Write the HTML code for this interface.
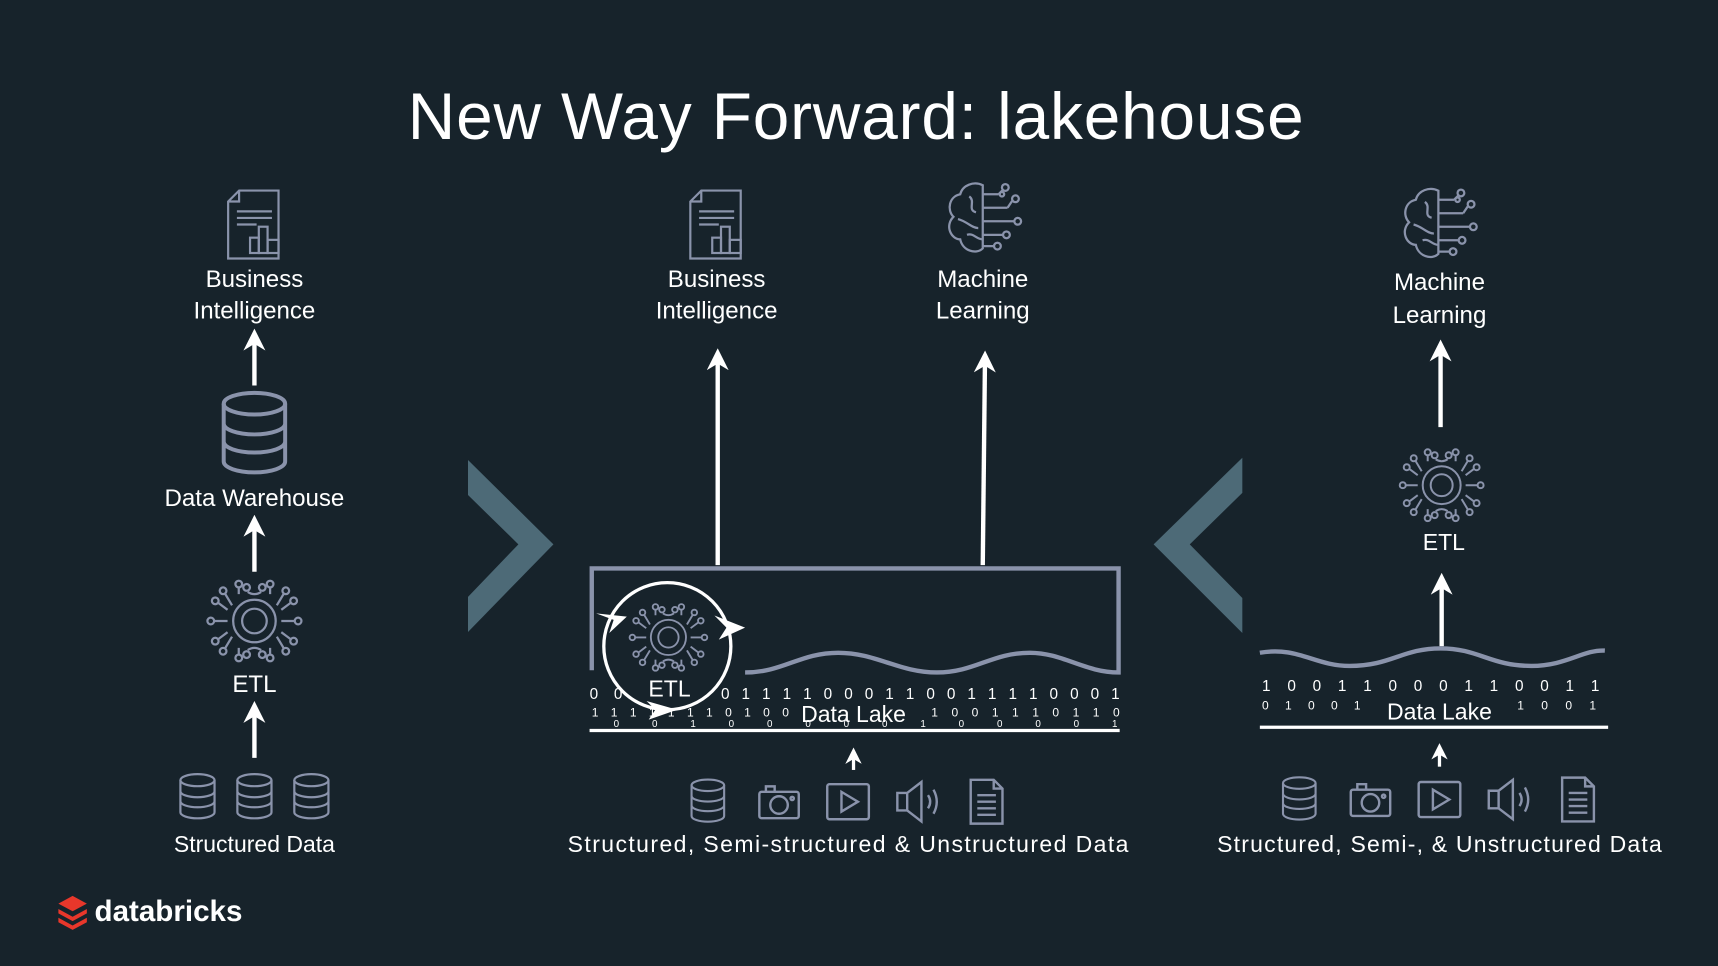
<!DOCTYPE html>
<html><head><meta charset="utf-8"><style>
html,body{margin:0;padding:0;background:#17232b;}
svg{display:block;}
text{font-family:"Liberation Sans",sans-serif;fill:#ffffff;}
</style></head><body>
<svg width="1718" height="966" viewBox="0 0 1568 882" xmlns="http://www.w3.org/2000/svg">
<defs>
<marker id="ah" viewBox="0 0 10 10" refX="5" refY="5" markerWidth="5" markerHeight="5" orient="auto-start-reverse">
<path d="M0,0 L10,5 L0,10 L3,5 Z" fill="#fff"/></marker>
<symbol id="etl" viewBox="-45 -40 90 80" overflow="visible">
<g fill="none" stroke="#8a93ab" stroke-width="2">
<circle r="11"/><circle r="19"/>
<path d="M-14,-24 L-14,-30 M14,-24 L14,-30 M-6,-26 Q0,-22 6,-26 M-24,-10 L-32,-16 M-24,0 L-36,0 M-24,10 L-32,16 M24,-10 L32,-16 M24,0 L36,0 M24,10 L32,16 M-14,24 L-14,30 M14,24 L14,30 M-6,26 Q0,22 6,26 M-20,-14 L-26,-24 M20,-14 L26,-24 M-20,14 L-26,24 M20,14 L26,24"/>
<circle cx="-14" cy="-33" r="3"/><circle cx="14" cy="-33" r="3"/><circle cx="-7" cy="-30" r="3"/><circle cx="7" cy="-30" r="3"/>
<circle cx="-14" cy="33" r="3"/><circle cx="14" cy="33" r="3"/><circle cx="-7" cy="30" r="3"/><circle cx="7" cy="30" r="3"/>
<circle cx="-35" cy="-18" r="3"/><circle cx="-39" cy="0" r="3"/><circle cx="-35" cy="18" r="3"/>
<circle cx="35" cy="-18" r="3"/><circle cx="39" cy="0" r="3"/><circle cx="35" cy="18" r="3"/>
<circle cx="-28" cy="-27" r="3"/><circle cx="28" cy="-27" r="3"/><circle cx="-28" cy="27" r="3"/><circle cx="28" cy="27" r="3"/>
</g></symbol>
<symbol id="db" viewBox="-20 -24 40 48" overflow="visible">
<g fill="none" stroke="#8a93ab" stroke-width="2.2">
<ellipse cx="0" cy="-16" rx="17" ry="6"/>
<path d="M-17,-16 V16 A17,6 0 0 0 17,16 V-16 M-17,-5 A17,6 0 0 0 17,-5 M-17,5 A17,6 0 0 0 17,5"/>
</g></symbol>
<symbol id="bi" viewBox="-26 -33 52 66" overflow="visible">
<g fill="none" stroke="#8a93ab" stroke-width="2">
<path d="M-14,-31 H22 V31 H-24 V-21 Z M-24,-21 H-14 V-31"/>
<path d="M-16,-12 H16 M-16,-6 H16 M-16,0 H2"/>
<rect x="-4" y="12" width="8" height="14"/><rect x="4" y="2" width="8" height="24"/><rect x="12" y="14" width="10" height="12"/>
</g></symbol>
<symbol id="brain" viewBox="-34 -34 68 68" overflow="visible">
<g fill="none" stroke="#8a93ab" stroke-width="2">
<path d="M0,-30 C-8,-34 -18,-30 -20,-22 C-30,-20 -32,-8 -26,-2 C-34,6 -28,18 -20,18 C-18,28 -6,32 0,26 Z"/>
<path d="M-12,-20 C-6,-16 -14,-8 -6,-6 M-22,0 C-14,2 -10,8 -4,8 M-14,14 C-8,12 -6,18 0,18"/>
<path d="M0,-22 H14 M0,-10 H22 M0,2 H28 M0,14 H18 M0,24 H10 M14,-22 L18,-26 M22,-10 L26,-16"/>
<circle cx="20" cy="-28" r="3"/><circle cx="29" cy="-18" r="3"/><circle cx="31" cy="2" r="3"/><circle cx="21" cy="14" r="3"/><circle cx="13" cy="24" r="3"/><circle cx="17" cy="-22" r="2"/>
</g></symbol>
<symbol id="cam" viewBox="-20 -20 40 40" overflow="visible">
<g fill="none" stroke="#8a93ab" stroke-width="2.2"><rect x="-18" y="-9" width="36" height="24" rx="2"/><path d="M-12,-9 V-14 H-4 V-9"/><circle cx="0" cy="3" r="8"/><circle cx="12" cy="-3" r="1.5"/></g></symbol>
<symbol id="play" viewBox="-20 -20 40 40" overflow="visible">
<g fill="none" stroke="#8a93ab" stroke-width="2.2"><rect x="-19" y="-16" width="38" height="32" rx="2"/><path d="M-6,-9 L9,0 L-6,9 Z"/></g></symbol>
<symbol id="spk" viewBox="-20 -20 40 40" overflow="visible">
<g fill="none" stroke="#8a93ab" stroke-width="2.2"><path d="M-18,-8 H-9 L4,-18 V18 L-9,8 H-18 Z M-9,-8 V8"/><path d="M10,-6 Q14,0 10,6 M15,-11 Q21,0 15,11"/></g></symbol>
<symbol id="doc" viewBox="-20 -20 40 40" overflow="visible">
<g fill="none" stroke="#8a93ab" stroke-width="2.2"><path d="M-14,-20 H7 L15,-12 V20 H-14 Z M7,-20 V-12 H15"/><path d="M-8,-6 H9 M-8,0 H9 M-8,6 H9 M-8,12 H9"/></g></symbol>
</defs>

<text x="781" y="127" font-size="60" text-anchor="middle" textLength="818">New Way Forward: lakehouse</text>

<!-- Left column -->
<use href="#bi" x="206" y="172" width="52" height="66"/>
<text x="232" y="262" font-size="22" text-anchor="middle">Business</text>
<text x="232" y="291" font-size="22" text-anchor="middle">Intelligence</text>
<line x1="232" y1="352" x2="232" y2="310" stroke="#fff" stroke-width="4" marker-end="url(#ah)"/>
<use href="#db" x="199" y="355" width="66" height="80"/>
<text x="232" y="462" font-size="22" text-anchor="middle">Data Warehouse</text>
<line x1="232" y1="522" x2="232" y2="480" stroke="#fff" stroke-width="4" marker-end="url(#ah)"/>
<use href="#etl" x="186" y="526" width="92" height="82"/>
<text x="232" y="632" font-size="22" text-anchor="middle">ETL</text>
<line x1="232" y1="692" x2="232" y2="650" stroke="#fff" stroke-width="4" marker-end="url(#ah)"/>
<use href="#db" x="160" y="705" width="40" height="44"/>
<use href="#db" x="212" y="705" width="40" height="44"/>
<use href="#db" x="264" y="705" width="40" height="44"/>
<text x="232" y="778" font-size="21" text-anchor="middle">Structured Data</text>

<!-- chevrons -->
<polygon points="427,420 505,497 427,577 427,545 473,497 427,452" fill="#4d6a77"/>
<polygon points="1134,418 1053,497 1134,578 1134,546 1086,497 1134,450" fill="#4d6a77"/>

<!-- Middle -->
<use href="#bi" x="628" y="172" width="52" height="66"/>
<text x="654" y="262" font-size="22" text-anchor="middle">Business</text>
<text x="654" y="291" font-size="22" text-anchor="middle">Intelligence</text>
<use href="#brain" x="862" y="165" width="70" height="70"/>
<text x="897" y="262" font-size="22" text-anchor="middle">Machine</text>
<text x="897" y="291" font-size="22" text-anchor="middle">Learning</text>
<line x1="655" y1="516" x2="655" y2="328" stroke="#fff" stroke-width="4" marker-end="url(#ah)"/>
<line x1="897" y1="516" x2="899" y2="330" stroke="#fff" stroke-width="4" marker-end="url(#ah)"/>

<path d="M540,612 V519 H1021 V614 C990,614 970,596 940,596 C905,596 890,614 855,614 C820,614 800,596 765,596 C730,596 715,614 680,614" fill="none" stroke="#8a93ab" stroke-width="4"/>
<g font-size="14">
<text x="538" y="638" fill="#9aa0ad" textLength="30">0 0</text>
<text x="658" y="638" fill="#9aa0ad" textLength="364">0 1 1 1 1 0 0 0 1 1 0 0 1 1 1 1 0 0 0 1</text>
<text x="540" y="654" fill="#7d8391" font-size="11" textLength="180">1 1 1 1 1 1 1 0 1 0 0</text>
<text x="850" y="654" fill="#7d8391" font-size="11" textLength="172">1 0 0 1 1 1 0 1 1 0</text>
<text x="560" y="664" fill="#5b6270" font-size="9" textLength="460">0 0 1 0 0 0 0 0 1 0 0 0 0 1</text>
</g>
<text x="779" y="659" font-size="21" text-anchor="middle">Data Lake</text>
<line x1="538" y1="667" x2="1022" y2="667" stroke="#fff" stroke-width="3"/>
<circle cx="609" cy="590" r="58" fill="#17232b" stroke="#fff" stroke-width="3"/>
<use href="#etl" x="572" y="548" width="76" height="68"/>
<text x="611" y="636" font-size="21" text-anchor="middle">ETL</text>
<path d="M544,560 L572,563 L556,578 L560,566 Z" fill="#fff"/>
<path d="M652,562 L680,573 L656,584 L663,573 Z" fill="#fff"/>
<path d="M590,640 L618,648 L592,657 L598,648 Z" fill="#fff"/>
<line x1="779" y1="703" x2="779" y2="690" stroke="#fff" stroke-width="3" marker-end="url(#ah)"/>
<use href="#db" x="627" y="710" width="38" height="42"/>
<use href="#cam" x="691" y="712" width="40" height="40"/>
<use href="#play" x="754" y="712" width="40" height="40"/>
<use href="#spk" x="817" y="712" width="40" height="40"/>
<use href="#doc" x="880" y="712" width="40" height="40"/>
<text x="774" y="778" font-size="21" text-anchor="middle" textLength="512">Structured, Semi-structured &amp; Unstructured Data</text>

<!-- Right -->
<use href="#brain" x="1278" y="170" width="70" height="70"/>
<text x="1314" y="265" font-size="22" text-anchor="middle">Machine</text>
<text x="1314" y="295" font-size="22" text-anchor="middle">Learning</text>
<line x1="1315" y1="390" x2="1315" y2="320" stroke="#fff" stroke-width="4" marker-end="url(#ah)"/>
<use href="#etl" x="1275" y="406" width="82" height="74"/>
<text x="1318" y="502" font-size="21" text-anchor="middle">ETL</text>
<line x1="1316" y1="590" x2="1316" y2="533" stroke="#fff" stroke-width="4" marker-end="url(#ah)"/>
<path d="M1150,596 C1185,590 1200,608 1232,608 C1270,608 1280,592 1315,592 C1350,592 1360,608 1398,608 C1430,608 1445,593 1465,594" fill="none" stroke="#8a93ab" stroke-width="4"/>
<g font-size="14">
<text x="1152" y="631" fill="#9aa0ad" textLength="308">1 0 0 1 1 0 0 0 1 1 0 0 1 1</text>
<text x="1152" y="648" fill="#7d8391" font-size="11" textLength="90">0 1 0 0 1</text>
<text x="1385" y="648" fill="#7d8391" font-size="11" textLength="72">1 0 0 1</text>
</g>
<text x="1314" y="657" font-size="21" text-anchor="middle">Data Lake</text>
<line x1="1150" y1="664" x2="1468" y2="664" stroke="#fff" stroke-width="3"/>
<line x1="1314" y1="700" x2="1314" y2="686" stroke="#fff" stroke-width="3" marker-end="url(#ah)"/>
<use href="#db" x="1167" y="708" width="38" height="42"/>
<use href="#cam" x="1231" y="710" width="40" height="40"/>
<use href="#play" x="1294" y="710" width="40" height="40"/>
<use href="#spk" x="1357" y="710" width="40" height="40"/>
<use href="#doc" x="1420" y="710" width="40" height="40"/>
<text x="1314" y="778" font-size="21" text-anchor="middle" textLength="406">Structured, Semi-, &amp; Unstructured Data</text>

<!-- logo -->
<g fill="#e8372b">
<path d="M66,818 L79,825 L66,832 L53,825 Z"/>
<path d="M53,830 L66,837 L79,830 L79,834 L66,841 L53,834 Z"/>
<path d="M53,838 L66,845 L79,838 L79,842 L66,849 L53,842 Z"/>
</g>
<text x="86" y="841" font-size="27" font-weight="bold">databricks</text>
</svg>
</body></html>
